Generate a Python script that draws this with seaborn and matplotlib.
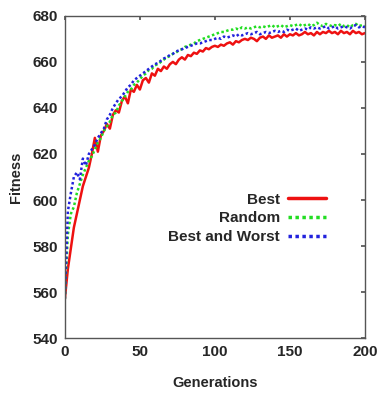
import numpy as np
import pandas as pd
import matplotlib
matplotlib.use("Agg")
import matplotlib.pyplot as plt
import seaborn as sns

generations = list(range(0, 201, 2))

best = [557, 570, 579, 588, 594, 600, 606, 610, 614, 620, 627, 621, 628, 630, 633, 631, 637, 639, 638, 643,
        645, 642, 648, 647, 650, 648, 652, 653, 651, 655, 654, 657, 656, 658, 657, 659, 660, 659, 661, 662,
        661, 663, 662.5, 664, 663.5, 665, 664.5, 666, 665.5, 666.5, 667, 666.5, 667.5, 667, 668, 668.5, 667.5,
        669, 668.5, 669.5, 670, 669.5, 670.5, 670, 669, 670.5, 671, 670, 671.5, 670.5, 671, 671.5, 670.5, 672,
        671, 672, 671.5, 672.5, 671.5, 672, 673, 672, 672.5, 671.5, 673, 672, 673, 672.5, 673.5, 672.5, 673,
        672, 673.5, 672.5, 673, 672, 673.5, 672.5, 673, 672, 672.5]

random_sel = [557, 585, 594, 597, 603, 607, 611, 614, 617, 619, 622, 625, 627, 630, 632, 634, 637, 638, 641, 643,
              645, 647, 648, 650, 651, 652.5, 654, 655, 656.5, 657, 658.5, 659, 660, 661, 662, 662.5, 663.5, 664,
              665, 665.5, 666.5, 667, 667.5, 668, 669, 669.5, 670, 670.5, 671, 671.5, 672, 672.5, 673, 673, 673.5,
              674, 674, 674.5, 674, 675, 674.5, 675, 674.5, 675, 675.5, 675, 675.5, 675, 675.5, 676, 675, 675.5,
              676, 675, 675.5, 676, 675.5, 676, 676.5, 675.5, 676, 676.5, 675.5, 676, 677, 676, 675.5, 676.5, 676,
              675.5, 676, 675.5, 676.5, 675.5, 676, 675, 676, 676.5, 675.5, 676, 675.5]

best_worst = [557, 595, 603, 610, 612, 609, 618, 615, 620, 622, 624, 627, 629, 631, 635, 637, 640, 642, 644, 645,
              647, 649, 650, 652, 653, 654, 655, 656, 657, 658, 659, 659.5, 660.5, 661.5, 662, 663, 663.5, 664.5,
              665, 665.5, 666, 666.5, 667, 667.5, 668, 668, 668.5, 669, 669.5, 669.5, 670, 670.5, 670, 671, 670.5,
              671, 671.5, 671, 672, 671.5, 672, 672.5, 672, 672.5, 673, 672, 672.5, 673, 672.5, 673, 673.5, 673,
              673.5, 673, 674, 673.5, 674, 674.5, 673.5, 674, 674.5, 674, 675, 674.5, 675, 674.5, 675, 675.5, 674.5,
              675, 675.5, 674.5, 675, 675.5, 675, 674.5, 675.5, 676, 675, 675.5, 675]

series_names = ["Best", "Random", "Best and Worst"]
x_ticks = [0, 50, 100, 150, 200]
y_ticks = [540, 560, 580, 600, 620, 640, 660, 680]

df = pd.DataFrame({
    "Generations": generations * 3,
    "Fitness": best + random_sel + best_worst,
    "Method": [series_names[0]] * len(generations) + [series_names[1]] * len(generations) + [series_names[2]] * len(generations),
})

sns.set_theme(style="white")
plt.rcParams["font.family"] = ["Liberation Sans", "DejaVu Sans"]
plt.rcParams["font.weight"] = "bold"

fig = plt.figure(figsize=(3.77, 3.96), dpi=100)
ax = fig.add_axes([0.172, 0.146, 0.796, 0.814])

palette = {"Best": "#ee1111", "Random": "#22dd22", "Best and Worst": "#2222dd"}
dashes = {"Best": "", "Random": (1, 1), "Best and Worst": (1, 1)}
sns.lineplot(data=df, x="Generations", y="Fitness", hue="Method", style="Method",
             palette=palette, dashes=dashes, linewidth=1.8, ax=ax)

ax.set_xlim(0, 200)
ax.set_ylim(540, 680)
ax.set_xticks(x_ticks)
ax.set_yticks(y_ticks)
ax.tick_params(direction="in", length=3, top=True, right=True, labelsize=11, pad=5, color="#555555")
for lab in ax.get_xticklabels() + ax.get_yticklabels():
    lab.set_fontweight("bold")
for s in ax.spines.values():
    s.set_color("#555555")
    s.set_linewidth(1.0)
ax.set_xlabel("Generations", fontsize=10.5, fontweight="bold", labelpad=12)
ax.set_ylabel("Fitness", fontsize=10.5, fontweight="bold", labelpad=7)

handles, labels = ax.get_legend_handles_labels()
leg = ax.legend(handles, labels, loc="upper right", bbox_to_anchor=(0.89, 0.47),
                frameon=False, markerfirst=False, fontsize=11, handlelength=2.5,
                labelspacing=0.3, handletextpad=0.5, borderaxespad=0)
for t in leg.get_texts():
    t.set_fontweight("bold")
    t.set_ha("right")
for line in leg.get_lines():
    line.set_linewidth(2.5)

fig.savefig("out.png", dpi=100)
